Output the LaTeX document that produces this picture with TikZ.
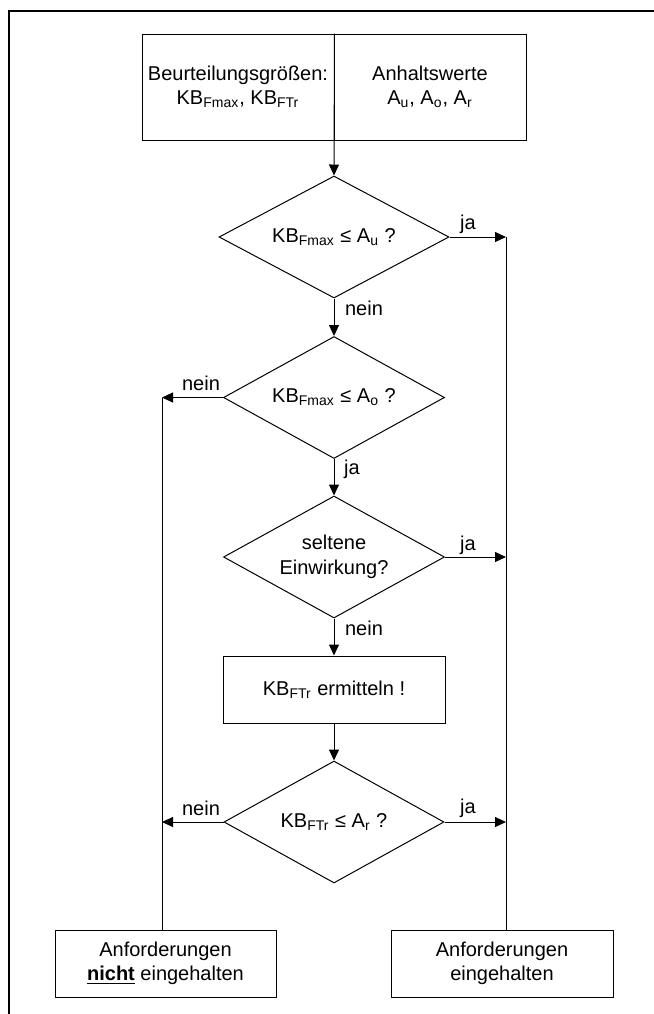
\documentclass[tikz,border=0pt]{standalone}
\usepackage{fontspec}
\setmainfont{Liberation Sans}
\usetikzlibrary{shapes.geometric,arrows.meta}
\tikzset{
	box/.style 2 args={draw,rectangle,inner sep=0pt,align=center,minimum width=#1,minimum height=#2},
	dia/.style={draw,diamond,aspect=2,inner sep=0pt,align=center,minimum width=#1,minimum height=61pt},
	arr/.style={-{Triangle[length=5.5pt,width=5pt]}},
	lbl/.style={inner sep=0pt}
}
\begin{document}
\begin{tikzpicture}[x=0.5pt,y=-0.5pt,font=\fontsize{10}{12.2}\selectfont,line width=0.5pt]
	\useasboundingbox (0,0) rectangle (654,1014);
	\draw [line width=1pt] (654,11) -- (9,11) -- (9,1014);

	\node [box={96pt}{53pt}] (groessen) at (238,87) {Beurteilungsgrößen:\\KB\textsubscript{Fmax}, KB\textsubscript{FTr}};
	\node [box={96pt}{53pt}] (anhalt) at (430,87) {Anhaltswerte\\A\textsubscript{u}, A\textsubscript{o}, A\textsubscript{r}};
	\node [dia=115pt] (qu) at (334,237) {KB\textsubscript{Fmax} ≤ A\textsubscript{u} ?};
	\node [dia=110.5pt] (qo) at (334,397.5) {KB\textsubscript{Fmax} ≤ A\textsubscript{o} ?};
	\node [dia=110.5pt] (selten) at (334,557) {seltene\\Einwirkung?};
	\node [box={111pt}{33.5pt}] (ermitteln) at (334,689.5) {KB\textsubscript{FTr} ermitteln !};
	\node [dia=110pt] (qr) at (334,822) {KB\textsubscript{FTr} ≤ A\textsubscript{r} ?};
	\node [box={110.5pt}{33.5pt}] (nichtok) at (165.5,963.5) {Anforderungen\\\underline{\textbf{nicht}} eingehalten};
	\node [box={111pt}{33.5pt}] (ok) at (502,963.5) {Anforderungen\\eingehalten};

	\coordinate (links) at (162,397.5);
	\coordinate (rechts) at (506,237);

	\draw [arr] (groessen.north east) -- (qu.north);
	\draw [arr] (qu.south) -- (qo.north);
	\draw [arr] (qo.south) -- (selten.north);
	\draw [arr] (selten.south) -- (ermitteln.north);
	\draw [arr] (ermitteln.south) -- (qr.north);

	\draw [arr] (qu.east) -- (rechts);
	\draw (rechts) -- (rechts |- ok.north);
	\draw [arr] (selten.east) -- (selten.east -| rechts);
	\draw [arr] (qr.east) -- (qr.east -| rechts);
	\draw [arr] (qo.west) -- (links);
	\draw (links) -- (links |- nichtok.north);
	\draw [arr] (qr.west) -- (qr.west -| links);

	\node [lbl] (ja1) at (468,224) {ja};
	\node [lbl] (nein1) at (364,308) {nein};
	\node [lbl] (nein2) at (201,383) {nein};
	\node [lbl] (ja2) at (352,469) {ja};
	\node [lbl] (ja3) at (468,545) {ja};
	\node [lbl] (nein3) at (364,628) {nein};
	\node [lbl] (nein4) at (201,808) {nein};
	\node [lbl] (ja4) at (468,808) {ja};
\end{tikzpicture}
\end{document}
